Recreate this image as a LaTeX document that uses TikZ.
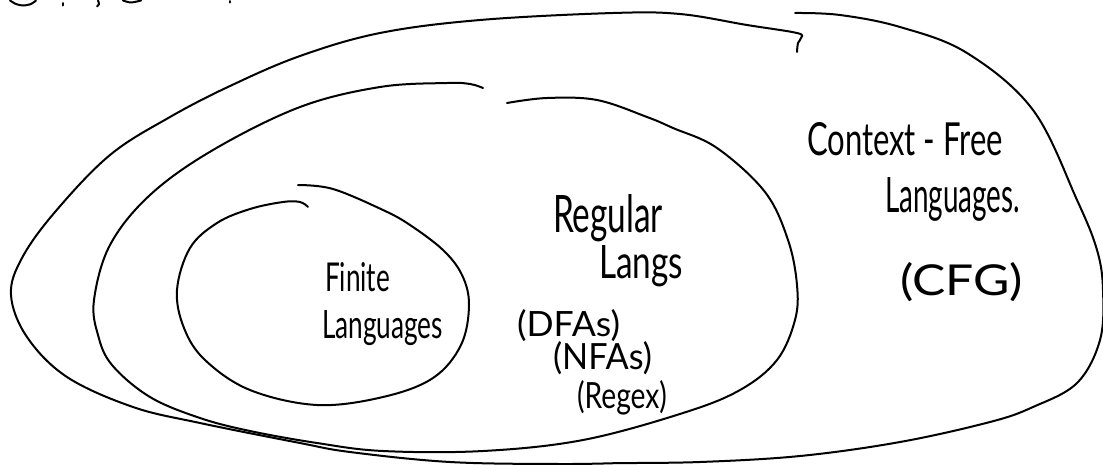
\documentclass[tikz,border=0pt]{standalone}
\usepackage{fontspec}
\usepackage{graphicx}
\setmainfont{Lato}
\newcommand{\hw}[3]{\resizebox{#1pt}{#2pt}{#3}}
\begin{document}
\begin{tikzpicture}[x=1pt,y=-1pt,
  ink/.style={line width=2pt, line cap=round, line join=round, black},
  lbl/.style={anchor=base west, inner sep=0pt, outer sep=0pt, text=black}]
\useasboundingbox (0,0) rectangle (1103,464);
\fill[white] (0,0) rectangle (1103,464);

% cut-off writing at the top edge
\draw[ink] plot[smooth] coordinates {(10,0.5) (16,4) (23,5.5) (31,4) (36,0.5)};
\draw[ink] (63,3) -- (63,5.5);
\draw[ink] plot[smooth] coordinates {(98,0.5) (99,4) (97,6.5)};
\draw[ink] plot[smooth] coordinates {(123,0.5) (131,2.5) (141,0.5)};
\draw[ink] (230,1) -- (230,2.5);

% outer (context-free) boundary, left stroke
\draw[ink] plot[smooth, tension=0.6] coordinates {
  (797,52) (798,43) (801,38) (797,33) (747,25) (680,14) (613,13) (480,20)
  (380,33) (300,56) (230,86) (170,117) (110,155) (55,212) (22,258) (11,295)
  (27,337) (67,377) (133,407) (200,423) (300,443) (350,452) (450,462) (560,464) (620,463)};
% outer boundary, right stroke
\draw[ink] plot[smooth, tension=0.6] coordinates {
  (795,13) (840,15) (900,27) (967,53) (1033,110) (1077,200) (1097,250)
  (1103,290) (1100,340) (1077,383) (1033,407) (990,422) (900,442) (800,456) (700,462) (620,463)};

% middle (regular) boundary
\draw[ink] plot[smooth, tension=0.6] coordinates {
  (483,88) (470,84) (447,83) (380,87) (300,107) (213,150) (150,195) (110,245)
  (94,300) (98,335) (112,365) (150,397) (200,418) (250,431) (317,443) (383,451)
  (483,451) (583,440) (683,413) (740,390) (777,360) (795,320) (797,285) (788,240)
  (765,192) (717,148) (673,128) (647,117) (597,100) (547,98) (507,103)};

% inner (finite) boundary
\draw[ink] plot[smooth, tension=0.6] coordinates {
  (308,207) (300,202) (283,202) (250,209) (217,223) (190,248) (177,290)
  (184,328) (205,360) (250,390) (317,405) (383,397) (433,378) (461,345) (469,305)
  (462,275) (443,250) (410,225) (383,210) (333,189) (298,185)};

% labels
\node[lbl] (fin1) at (325,291) {\hw{65}{29}{Finite}};
\node[lbl] (fin2) at (322,338) {\hw{121}{28}{Languages}};
\node[lbl] (reg1) at (553,232) {\hw{110}{38}{Regular}};
\node[lbl] (reg2) at (599,278) {\hw{84}{33}{Langs}};
\node[lbl] (dfa) at (517,336) {\hw{103}{27}{(DFAs)}};
\node[lbl] (nfa) at (553,369) {\hw{99}{28}{(NFAs)}};
\node[lbl] (rgx) at (577,408) {\hw{90}{28}{(Regex)}};
\node[lbl] (cf1) at (807,155) {\hw{196}{33}{Context - Free}};
\node[lbl] (cf2) at (885,212) {\hw{135}{35}{Languages.}};
\node[lbl] (cfg) at (900,295) {\hw{123}{33}{(CFG)}};
\end{tikzpicture}
\end{document}
